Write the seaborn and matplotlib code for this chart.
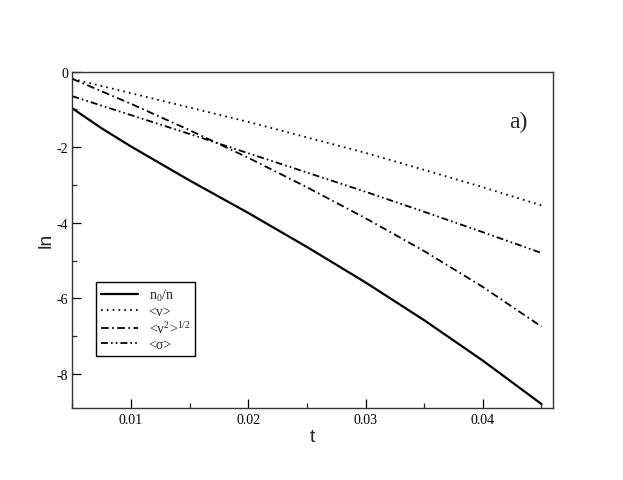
import numpy as np
import pandas as pd
import seaborn as sns
import matplotlib
matplotlib.use("Agg")
import matplotlib.pyplot as plt
from matplotlib.ticker import MultipleLocator

# ---- data ----
t = [0.005, 0.0075, 0.01, 0.015, 0.02, 0.025, 0.03, 0.035, 0.04, 0.045]
n0_over_n = [-0.97, -1.50, -1.98, -2.88, -3.74, -4.64, -5.58, -6.58, -7.65, -8.80]
v_mean = [-0.19, -0.38, -0.57, -0.95, -1.33, -1.74, -2.15, -2.60, -3.06, -3.54]
v2_sqrt = [-0.19, -0.52, -0.85, -1.55, -2.28, -3.06, -3.88, -4.75, -5.70, -6.75]
sigma_mean = [-0.65, -0.90, -1.15, -1.65, -2.16, -2.67, -3.18, -3.71, -4.25, -4.80]

labels = [r"n$_\mathregular{0}$/n", "<v>", r"<v$^\mathregular{2}$>$^\mathregular{1/2}$", "<σ>"]
series = [n0_over_n, v_mean, v2_sqrt, sigma_mean]
xtick_labels = ["0.01", "0.02", "0.03", "0.04"]
ytick_labels = ["0", "-2", "-4", "-6", "-8"]

sns.set_theme(style="white")
plt.rcParams["font.family"] = ["Liberation Serif", "DejaVu Serif"]
plt.rcParams["mathtext.fontset"] = "custom"
plt.rcParams["mathtext.rm"] = "Liberation Serif"
plt.rcParams["mathtext.it"] = "Liberation Serif:italic"
plt.rcParams["lines.scale_dashes"] = False

fig = plt.figure(figsize=(6.23, 4.81), dpi=100)
ax = fig.add_axes([0.116, 0.150, 0.772, 0.699])

styles = [
    dict(linestyle="-", linewidth=1.6),
    dict(linestyle=(0, (1.2, 3.0)), linewidth=1.3),
    dict(linestyle=(0, (5.5, 2.5, 1.2, 2.5)), linewidth=1.3),
    dict(linestyle=(0, (5.0, 2.2, 1.2, 2.2, 1.2, 2.2)), linewidth=1.3),
]

for vals, lab, st in zip(series, labels, styles):
    df = pd.DataFrame({"t": t, "v": vals})
    sns.lineplot(data=df, x="t", y="v", ax=ax, color="black", label=lab, **st)

ax.set_xlim(0.005, 0.046)
ax.set_ylim(-8.9, 0)
ax.xaxis.set_minor_locator(MultipleLocator(0.005))
ax.yaxis.set_minor_locator(MultipleLocator(1))
ax.set_xticks([0.01, 0.02, 0.03, 0.04])
ax.set_xticklabels(xtick_labels)
ax.set_yticks([0, -2, -4, -6, -8])
ax.set_yticklabels(ytick_labels)
ax.tick_params(axis="both", which="major", direction="in", length=6.5, width=0.9,
               labelsize=10, colors="black", bottom=True, left=True, top=False, right=False)
ax.tick_params(axis="x", which="major", pad=3.5)
ax.tick_params(axis="y", which="major", pad=3)
ax.tick_params(axis="both", which="minor", direction="in", length=3.5, width=0.9,
               bottom=True, left=True, top=False, right=False)
for sp in ax.spines.values():
    sp.set_color("#333333")
    sp.set_linewidth(1.0)

ax.set_xlabel("t", fontsize=14, family="Liberation Sans", labelpad=2)
ax.set_ylabel("ln", fontsize=14, family="Liberation Sans", labelpad=1.5)

ax.text(0.927, 0.853, "a)", transform=ax.transAxes, fontsize=17, ha="center", va="center")

leg = ax.legend(loc="lower left", bbox_to_anchor=(0.049, 0.155), borderaxespad=0,
                fontsize=10, handlelength=2.7, handletextpad=0.75, labelspacing=0.15,
                borderpad=0.35, fancybox=False, framealpha=1, edgecolor="black")
leg.get_frame().set_linewidth(1.0)

fig.savefig("out.png", dpi=100)
